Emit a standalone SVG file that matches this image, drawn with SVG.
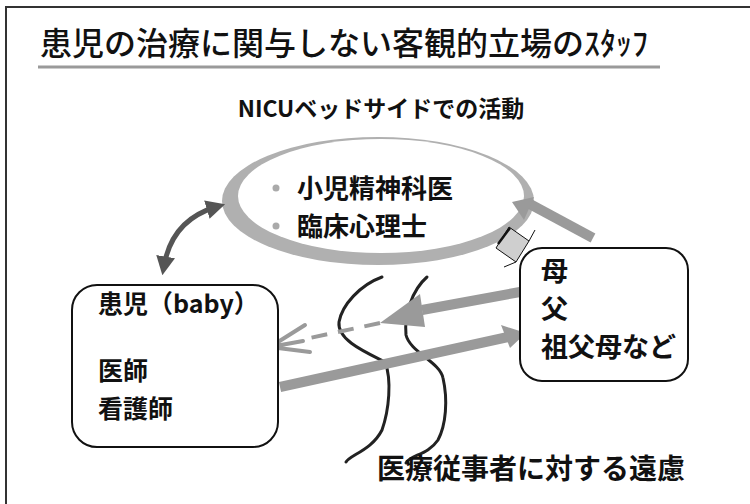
<svg xmlns="http://www.w3.org/2000/svg" width="750" height="504" viewBox="0 0 750 504">
<style>
text{font-family:"Noto Sans CJK JP","Noto Sans",sans-serif;fill:#111}
.b{font-weight:bold}
.m{font-weight:500}
.box{fill:#fff;stroke:#111;stroke-width:2}
.wave{fill:none;stroke:#222;stroke-width:3;stroke-linecap:round}
</style>
<defs>
<marker id="dh" viewBox="0 0 10 10" refX="5" refY="5" markerWidth="3.8" markerHeight="3.8" orient="auto-start-reverse" markerUnits="strokeWidth">
<path d="M0,0 L10,5 L0,10 z" fill="#555"/>
</marker>
</defs>
<rect width="750" height="504" fill="#fff"/>
<path d="M6,504 V7 H750" fill="none" stroke="#333" stroke-width="2"/>
<text x="40" y="55" font-size="32" class="m">患児の治療に関与しない客観的立場のｽﾀｯﾌ</text>
<line x1="38" y1="67" x2="660" y2="67" stroke="#9a9a9a" stroke-width="3"/>
<text x="381" y="117" font-size="23" class="b" text-anchor="middle">NICUベッドサイドでの活動</text>

<g id="ellipse-node">
<ellipse cx="378" cy="201" rx="156" ry="64" fill="#b0b0b0"/>
<ellipse cx="381" cy="196" rx="143" ry="57" fill="#fff"/>
<circle cx="276" cy="188" r="3.5" fill="#aaa"/>
<circle cx="276" cy="226" r="3.5" fill="#aaa"/>
<text x="297" y="198" font-size="26" class="b">小児精神科医</text>
<text x="297" y="236" font-size="26" class="b">臨床心理士</text>
</g>

<g id="connectors">
<path d="M164,266 Q172,220 216,207" fill="none" stroke="#555" stroke-width="5" marker-start="url(#dh)" marker-end="url(#dh)"/>
<path d="M593,238 L528,203" stroke="#9a9a9a" stroke-width="10"/>
<path d="M512,202 L534,197 L524,220 z" fill="#9a9a9a"/>
<path d="M509,227 L529,241 L516,262 L496,248 z" fill="#cfcfcf" stroke="#111" stroke-width="1"/>
<path d="M498,244 L510,228" stroke="#111" stroke-width="2.5"/>
<path d="M529,241 L535,230 M516,262 L504,267" stroke="#111" stroke-width="1"/>
<path class="wave" d="M382,277 C360,285 342,305 339,322 C337,340 365,352 385,362 C392,380 389,410 382,430 C372,450 350,455 346,462"/>
<path class="wave" d="M427,277 C412,290 404,315 406,335 C410,352 440,362 443,378 C448,400 446,425 438,440 C428,455 410,455 406,463"/>
<path d="M520,292 L422,310" stroke="#9a9a9a" stroke-width="10"/>
<path d="M380,323 L420,294 L425,327 z" fill="#9a9a9a"/>
<path d="M380,323 L310,338" stroke="#9a9a9a" stroke-width="4" stroke-dasharray="16 11"/>
<path d="M270,347 L305,325 M270,347 L303,341 M270,347 L310,352" stroke="#9a9a9a" stroke-width="4" stroke-linecap="round"/>
<path d="M280,387 L508,337" stroke="#9a9a9a" stroke-width="10"/>
<path d="M526,333 L501,325 L510,348 z" fill="#9a9a9a"/>
</g>

<g id="left-box">
<rect class="box" x="72" y="285" width="206" height="162" rx="25"/>
<text x="98" y="313" font-size="25" class="b">患児（baby）</text>
<text x="98" y="380" font-size="25" class="b">医師</text>
<text x="98" y="418" font-size="25" class="b">看護師</text>
</g>

<g id="right-box">
<rect class="box" x="520" y="248" width="168" height="133" rx="22"/>
<text x="541" y="281" font-size="27" class="b">母</text>
<text x="541" y="319" font-size="27" class="b">父</text>
<text x="541" y="357" font-size="27" class="b">祖父母など</text>
</g>

<text x="377" y="479" font-size="28" class="b">医療従事者に対する遠慮</text>
</svg>
